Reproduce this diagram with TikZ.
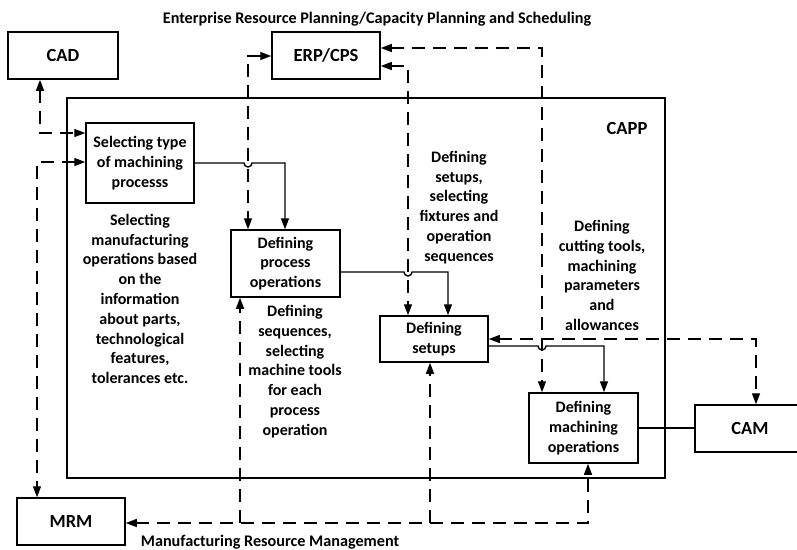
\documentclass[tikz,border=0pt]{standalone}
\usepackage{fontspec}
\setmainfont{Carlito}
\usetikzlibrary{arrows.meta}
\begin{document}
\begin{tikzpicture}[x=1pt,y=-1pt,
  box/.style={draw,line width=1.5pt,fill=white,inner sep=0pt,align=center,font=\bfseries\fontsize{16}{19.8}\selectfont},
  big/.style={font=\bfseries\fontsize{18.5}{22}\selectfont},
  desc/.style={align=center,inner sep=0pt,font=\bfseries\fontsize{16}{19.8}\selectfont},
  captxt/.style={inner sep=0pt,font=\bfseries\fontsize{16.2}{19}\selectfont},
  sline/.style={line width=1.4pt},
  dline/.style={line width=1.4pt,dash pattern=on 13pt off 8pt},
  tip/.style={-{Triangle[length=11pt,width=8pt]}},
  tips/.style={{Triangle[length=11pt,width=8pt]}-{Triangle[length=11pt,width=8pt]}}
]
\useasboundingbox (0,0) rectangle (797,549);
% CAPP frame
\node[draw,line width=1.5pt,minimum width=598pt,minimum height=380pt,inner sep=0pt] (capp) at (366,288) {};
\node[big,inner sep=0pt] (capplbl) at (627,128) {CAPP};
% boxes
\node[box,big,minimum width=110pt,minimum height=47pt] (cad) at (63,55.5) {CAD};
\node[box,big,minimum width=108pt,minimum height=47pt] (erp) at (326,55.5) {ERP/CPS};
\node[box,big,minimum width=108pt,minimum height=47pt] (mrm) at (71,521.5) {MRM};
\node[box,big,minimum width=110pt,minimum height=47pt] (cam) at (750,428.5) {CAM};
\node[box,minimum width=108pt,minimum height=80pt] (sel) at (140,163) {Selecting type\\of machining\\processs};
\node[box,minimum width=109pt,minimum height=67pt] (proc) at (285.5,263.5) {Defining\\process\\operations};
\node[box,minimum width=108pt,minimum height=46pt] (setup) at (434,339) {Defining\\setups};
\node[box,minimum width=109pt,minimum height=70pt] (mach) at (583.5,428) {Defining\\machining\\operations};
% captions
\node[captxt] (title) at (377,19) {Enterprise Resource Planning/Capacity Planning and Scheduling};
\node[captxt] (mrmlbl) at (270,542) {Manufacturing Resource Management};
% descriptions
\node[desc] (d1) at (140,299) {Selecting\\manufacturing\\operations based\\on the\\information\\about parts,\\technological\\features,\\tolerances etc.};
\node[desc] (d2) at (295,371.5) {Defining\\sequences,\\selecting\\machine tools\\for each\\process\\operation};
\node[desc] (d3) at (459,207.5) {Defining\\setups,\\selecting\\fixtures and\\operation\\sequences};
\node[desc] (d4) at (602,275.5) {Defining\\cutting tools,\\machining\\parameters\\and\\allowances};
% coordinates
\coordinate (c1) at (40,133);
\coordinate (c2) at (37,162);
\coordinate (c3) at (248,56);
\coordinate (c4) at (408,66);
\coordinate (c5) at (542,48);
\coordinate (c6) at (756,339);
\coordinate (c7) at (588,523);
\coordinate (b1) at (240,523);
\coordinate (b2) at (430,523);
% dashed connectors
\draw[dline,tips] (c1 |- cad.south) -- (c1) -- (c1 -| sel.west);
\draw[dline,tips] (c2 -| sel.west) -- (c2) -- (c2 |- mrm.north);
\draw[dline,tips] (c3 -| erp.west) -- (c3) -- (c3 |- proc.north);
\draw[dline,tips] (c4 -| erp.east) -- (c4) -- (c4 |- setup.north);
\draw[dline,tips] (c5 -| erp.east) -- (c5) -- (c5 |- mach.north);
\draw[dline,tips] (c6 -| setup.east) -- (c6) -- (c6 |- cam.north);
\draw[dline,tips] (c7 -| mrm.east) -- (c7) -- (c7 |- mach.south);
\draw[dline,tip] (b1) -- (b1 |- proc.south);
\draw[dline,tip] (b2) -- (b2 |- setup.south);
% solid connectors with jumps
\draw[sline,tip] (sel.east |- 0,163) -- (244,163) arc[start angle=180,end angle=0,radius=4] -- (285,163) -- (285,0 |- proc.north);
\draw[sline,tip] (proc.east |- 0,272) -- (404,272) arc[start angle=180,end angle=0,radius=4] -- (448,272) -- (448,0 |- setup.north);
\draw[sline,tip] (setup.east |- 0,346) -- (538,346) arc[start angle=180,end angle=0,radius=4] -- (604,346) -- (604,0 |- mach.north);
\draw[sline] (mach.east) -- (mach.east -| cam.west);
\end{tikzpicture}
\end{document}
